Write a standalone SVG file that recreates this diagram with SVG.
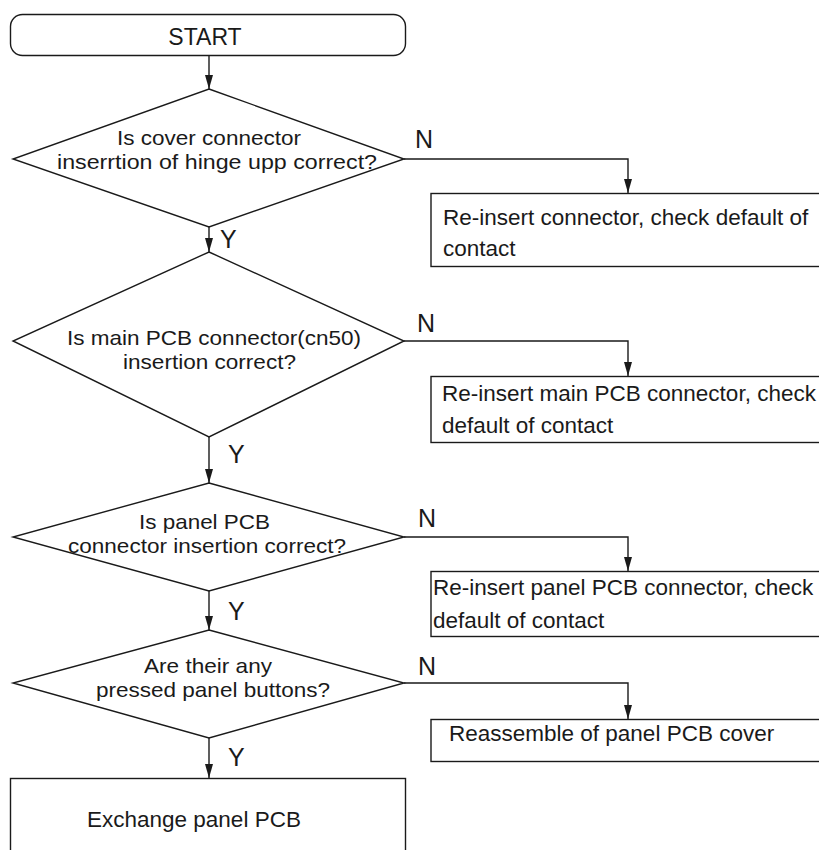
<svg xmlns="http://www.w3.org/2000/svg" width="819" height="850" viewBox="0 0 819 850">
<defs>
<style>
.shape{fill:#fff;stroke:#1a1a1a;stroke-width:1.4}
.t{font-family:"Liberation Sans",Arial,Helvetica,sans-serif;font-size:22.5px;fill:#1a1a1a}
.dt{font-family:"Liberation Sans",Arial,Helvetica,sans-serif;font-size:21px;fill:#1a1a1a}
.lbl{font-family:"Liberation Sans",Arial,Helvetica,sans-serif;font-size:25px;fill:#1a1a1a}
.conn{fill:none;stroke:#1a1a1a;stroke-width:1.4}
</style>
<marker id="ah" viewBox="0 0 14 8" markerWidth="14" markerHeight="8" refX="14" refY="4" orient="auto" markerUnits="userSpaceOnUse">
<path d="M0,0 L14,4 L0,8 z" fill="#1a1a1a"/>
</marker>
</defs>
<rect width="819" height="850" fill="#fff"/>

<g id="start">
<rect class="shape" x="10.5" y="14.5" width="395" height="41" rx="12" ry="12"/>
<text class="t" x="205" y="44.5" text-anchor="middle" style="font-size:23px">START</text>
</g>

<g id="d1">
<polygon class="shape" points="209,89 404,159 209,227 13,159"/>
<text class="dt" x="117" y="145" textLength="184" lengthAdjust="spacingAndGlyphs">Is cover connector</text>
<text class="dt" x="57" y="169" textLength="320" lengthAdjust="spacingAndGlyphs">inserrtion of hinge upp correct?</text>
</g>

<g id="b1">
<rect class="shape" x="431" y="193.5" width="400" height="73"/>
<text class="t" x="443" y="225">Re-insert connector, check default of</text>
<text class="t" x="443" y="256">contact</text>
</g>

<g id="d2">
<polygon class="shape" points="209,252 404,341 209,437 13,341"/>
<text class="dt" x="67" y="345" textLength="294" lengthAdjust="spacingAndGlyphs">Is main PCB connector(cn50)</text>
<text class="dt" x="123" y="369" textLength="173" lengthAdjust="spacingAndGlyphs">insertion correct?</text>
</g>

<g id="b2">
<rect class="shape" x="431" y="376.5" width="400" height="66"/>
<text class="t" x="442" y="401">Re-insert main PCB connector, check</text>
<text class="t" x="442" y="433">default of contact</text>
</g>

<g id="d3">
<polygon class="shape" points="209,483 404,537 209,591 13,537"/>
<text class="dt" x="139" y="529" textLength="131" lengthAdjust="spacingAndGlyphs">Is panel PCB</text>
<text class="dt" x="68" y="553" textLength="278" lengthAdjust="spacingAndGlyphs">connector insertion correct?</text>
</g>

<g id="b3">
<rect class="shape" x="431" y="571.5" width="400" height="65"/>
<text class="t" x="433" y="595">Re-insert panel PCB connector, check</text>
<text class="t" x="433" y="628">default of contact</text>
</g>

<g id="d4">
<polygon class="shape" points="209,630 404,683 209,738 13,683"/>
<text class="dt" x="144" y="673" textLength="128" lengthAdjust="spacingAndGlyphs">Are their any</text>
<text class="dt" x="96" y="697" textLength="234" lengthAdjust="spacingAndGlyphs">pressed panel buttons?</text>
</g>

<g id="b4">
<rect class="shape" x="431" y="719.5" width="400" height="42"/>
<text class="t" x="449" y="741">Reassemble of panel PCB cover</text>
</g>

<g id="b5">
<rect class="shape" x="10.5" y="778.5" width="395" height="100"/>
<text class="t" x="87" y="827">Exchange panel PCB</text>
</g>

<g id="connectors">
<path class="conn" d="M209,56 V89" marker-end="url(#ah)"/>
<path class="conn" d="M209,227 V252" marker-end="url(#ah)"/>
<path class="conn" d="M209,437 V483" marker-end="url(#ah)"/>
<path class="conn" d="M209,591 V630" marker-end="url(#ah)"/>
<path class="conn" d="M209,738 V778" marker-end="url(#ah)"/>
<path class="conn" d="M404,159 H628 V193" marker-end="url(#ah)"/>
<path class="conn" d="M404,341 H628 V376" marker-end="url(#ah)"/>
<path class="conn" d="M404,537 H628 V571" marker-end="url(#ah)"/>
<path class="conn" d="M404,683 H628 V719" marker-end="url(#ah)"/>
<text class="lbl" x="220" y="248">Y</text>
<text class="lbl" x="228" y="463">Y</text>
<text class="lbl" x="228" y="620">Y</text>
<text class="lbl" x="228" y="766">Y</text>
<text class="lbl" x="415" y="148">N</text>
<text class="lbl" x="417" y="332">N</text>
<text class="lbl" x="418" y="527">N</text>
<text class="lbl" x="418" y="675">N</text>
</g>
</svg>
